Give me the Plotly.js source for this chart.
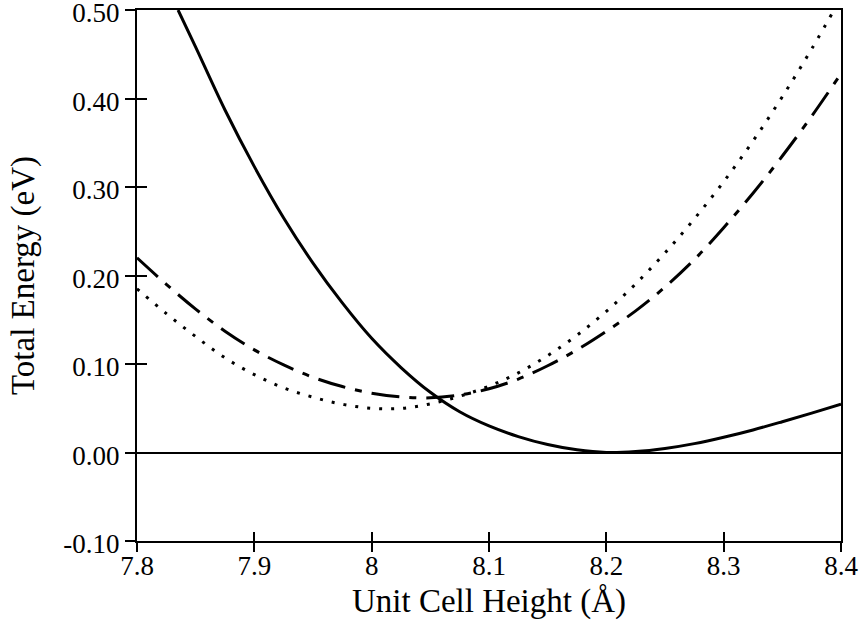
<!DOCTYPE html>
<html>
<head>
<meta charset="utf-8">
<script src="https://cdn.plot.ly/plotly-3.0.1.min.js"></script>
<style>
  html, body { margin: 0; padding: 0; background: #fff; }
  #chart { width: 862px; height: 621px; }
</style>
</head>
<body>
<div id="chart"></div>
<script>
// Unit cell height (Å)
const xSolid = [7.835, 7.85, 7.875, 7.9, 7.925, 7.95, 7.975, 8.0, 8.025, 8.05, 8.075, 8.1, 8.125, 8.15, 8.175, 8.2, 8.225, 8.25, 8.275, 8.3, 8.325, 8.35, 8.375, 8.4];
const ySolid = [0.50, 0.458, 0.387, 0.323, 0.265, 0.214, 0.169, 0.129, 0.096, 0.068, 0.046, 0.030, 0.018, 0.009, 0.003, 0.0, 0.001, 0.0045, 0.0100, 0.0172, 0.0255, 0.0348, 0.0445, 0.0546];

const xCurve = [7.8, 7.825, 7.85, 7.875, 7.9, 7.925, 7.95, 7.975, 8.0, 8.025, 8.05, 8.075, 8.1, 8.125, 8.15, 8.175, 8.2, 8.225, 8.25, 8.275, 8.3, 8.325, 8.35, 8.375, 8.4];
const yDashed = [0.220, 0.190, 0.162, 0.137, 0.116, 0.099, 0.085, 0.0745, 0.0670, 0.0628, 0.0618, 0.0650, 0.072, 0.083, 0.098, 0.116, 0.137, 0.160, 0.187, 0.218, 0.254, 0.293, 0.335, 0.380, 0.428];
const yDotted = [0.185, 0.157, 0.131, 0.107, 0.088, 0.073, 0.0625, 0.0545, 0.0500, 0.0498, 0.0550, 0.0635, 0.075, 0.090, 0.1095, 0.1325, 0.1595, 0.1905, 0.2255, 0.264, 0.306, 0.352, 0.402, 0.456, 0.514];

const xTickVals = [7.8, 7.9, 8.0, 8.1, 8.2, 8.3, 8.4];
const xTickText = ["7.8", "7.9", "8", "8.1", "8.2", "8.3", "8.4"];
const yTickVals = [-0.1, 0.0, 0.1, 0.2, 0.3, 0.4, 0.5];
const yTickText = ["-0.10", "0.00", "0.10", "0.20", "0.30", "0.40", "0.50"];

const FONT = 'Liberation Serif, Times New Roman, Times, serif';

const traces = [
  { x: xCurve, y: yDotted, mode: 'lines', line: { color: '#000', width: 3, dash: '3px,9px', shape: 'spline' }, hoverinfo: 'skip' },
  { x: xCurve, y: yDashed, mode: 'lines', line: { color: '#000', width: 3, dash: '28px,10px,7px,10px', shape: 'spline' }, hoverinfo: 'skip' },
  { x: xSolid, y: ySolid, mode: 'lines', line: { color: '#000', width: 3, shape: 'spline' }, hoverinfo: 'skip' },
  { x: [], y: [], xaxis: 'x2', yaxis: 'y2', mode: 'lines', hoverinfo: 'skip' }
];

const axisCommon = {
  showgrid: false,
  showline: true,
  linecolor: '#000',
  linewidth: 2,
  tickcolor: '#000',
  tickwidth: 2,
  tickmode: 'array',
  ticklabeloverflow: 'allow',
  tickfont: { family: FONT, size: 27, color: '#000' }
};

const layout = {
  width: 862,
  height: 621,
  margin: { l: 137, r: 21, t: 10, b: 80 },
  paper_bgcolor: '#fff',
  plot_bgcolor: '#fff',
  showlegend: false,
  font: { family: FONT, color: '#000' },
  xaxis: Object.assign({}, axisCommon, {
    range: [7.8, 8.4],
    tickvals: xTickVals,
    ticktext: xTickText,
    ticks: 'inside',
    ticklen: 9,
    mirror: true,
    zeroline: false,
    title: { text: 'Unit Cell Height (Å)', font: { family: FONT, size: 33, color: '#000' }, standoff: 8 }
  }),
  yaxis: Object.assign({}, axisCommon, {
    range: [-0.1, 0.5],
    tickvals: yTickVals,
    ticktext: yTickText,
    ticks: 'outside',
    ticklen: 10,
    ticklabelshift: 3,
    mirror: true,
    zeroline: true,
    zerolinecolor: '#000',
    zerolinewidth: 2,
    title: { text: 'Total Energy (eV)', font: { family: FONT, size: 33, color: '#000' }, standoff: 19 }
  }),
  xaxis2: {
    overlaying: 'x', anchor: 'y2', range: [7.8, 8.4], tickmode: 'array', tickvals: xTickVals,
    ticks: 'outside', ticklen: 10, tickwidth: 2, tickcolor: '#000',
    showticklabels: false, showline: false, showgrid: false, zeroline: false
  },
  yaxis2: {
    overlaying: 'y', anchor: 'x2', side: 'left', range: [-0.1, 0.5], tickmode: 'array', tickvals: yTickVals,
    ticks: 'inside', ticklen: 10, tickwidth: 2, tickcolor: '#000',
    showticklabels: false, showline: false, showgrid: false, zeroline: false
  }
};

Plotly.newPlot('chart', traces, layout, { staticPlot: true, displayModeBar: false });
</script>
</body>
</html>
